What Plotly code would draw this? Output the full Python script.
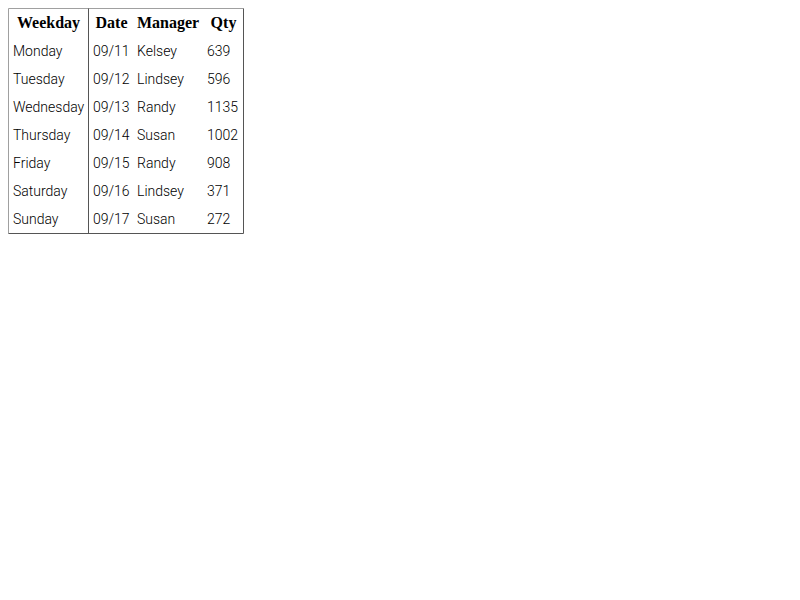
import plotly.graph_objects as go

# table contents
headers = ["Weekday", "Date", "Manager", "Qty"]
weekdays = ["Monday", "Tuesday", "Wednesday", "Thursday", "Friday", "Saturday", "Sunday"]
dates = ["09/11", "09/12", "09/13", "09/14", "09/15", "09/16", "09/17"]
managers = ["Kelsey", "Lindsey", "Randy", "Susan", "Randy", "Lindsey", "Susan"]
qty = [639, 596, 1135, 1002, 908, 371, 272]

W, H = 800, 600
# layout in pixels (figure coords)
col_left = [5, 85, 129, 199]          # body text starts
col_center = [40.5, 103.5, 160, 215.5]  # header text centres
head_y = 16
row0_y = 44
row_h = 28
box = dict(x0=0.5, x1=235.5, y0=0.5, y1=225.5)
divider_x = 80.5

columns = [weekdays, dates, managers, [str(q) for q in qty]]
row_y = [row0_y + row_h * i for i in range(len(weekdays))]

fig = go.Figure()

fig.add_trace(go.Scatter(
    x=col_center, y=[head_y] * len(headers), mode="text",
    text=["<b>%s</b>" % h for h in headers], textposition="middle center",
    textfont=dict(family="Liberation Serif", size=16, color="black"),
    hoverinfo="skip", showlegend=False,
))
for x, col in zip(col_left, columns):
    fig.add_trace(go.Scatter(
        x=[x] * len(col), y=row_y, mode="text",
        text=col, textposition="middle right",
        textfont=dict(family="Roboto", size=14, weight=300, color="black"),
        hoverinfo="skip", showlegend=False,
    ))

light, dark = "#a0a0a0", "#555555"
fig.add_shape(type="line", x0=box["x0"], x1=box["x1"], y0=box["y0"], y1=box["y0"], line=dict(color=light, width=1))
fig.add_shape(type="line", x0=box["x0"], x1=box["x0"], y0=box["y0"], y1=box["y1"], line=dict(color=light, width=1))
fig.add_shape(type="line", x0=box["x0"], x1=box["x1"], y0=box["y1"], y1=box["y1"], line=dict(color=dark, width=1))
fig.add_shape(type="line", x0=box["x1"], x1=box["x1"], y0=box["y0"], y1=box["y1"], line=dict(color=dark, width=1))
fig.add_shape(type="line", x0=divider_x, x1=divider_x, y0=box["y0"], y1=box["y1"], line=dict(color=dark, width=1))

axis = dict(visible=False, showgrid=False, zeroline=False, fixedrange=True)
fig.update_xaxes(range=[0, W], **axis)
fig.update_yaxes(range=[H, 0], **axis)
fig.update_layout(width=W, height=H, margin=dict(l=0, r=0, t=0, b=0),
                  paper_bgcolor="white", plot_bgcolor="white")
fig.write_html("out.html")
